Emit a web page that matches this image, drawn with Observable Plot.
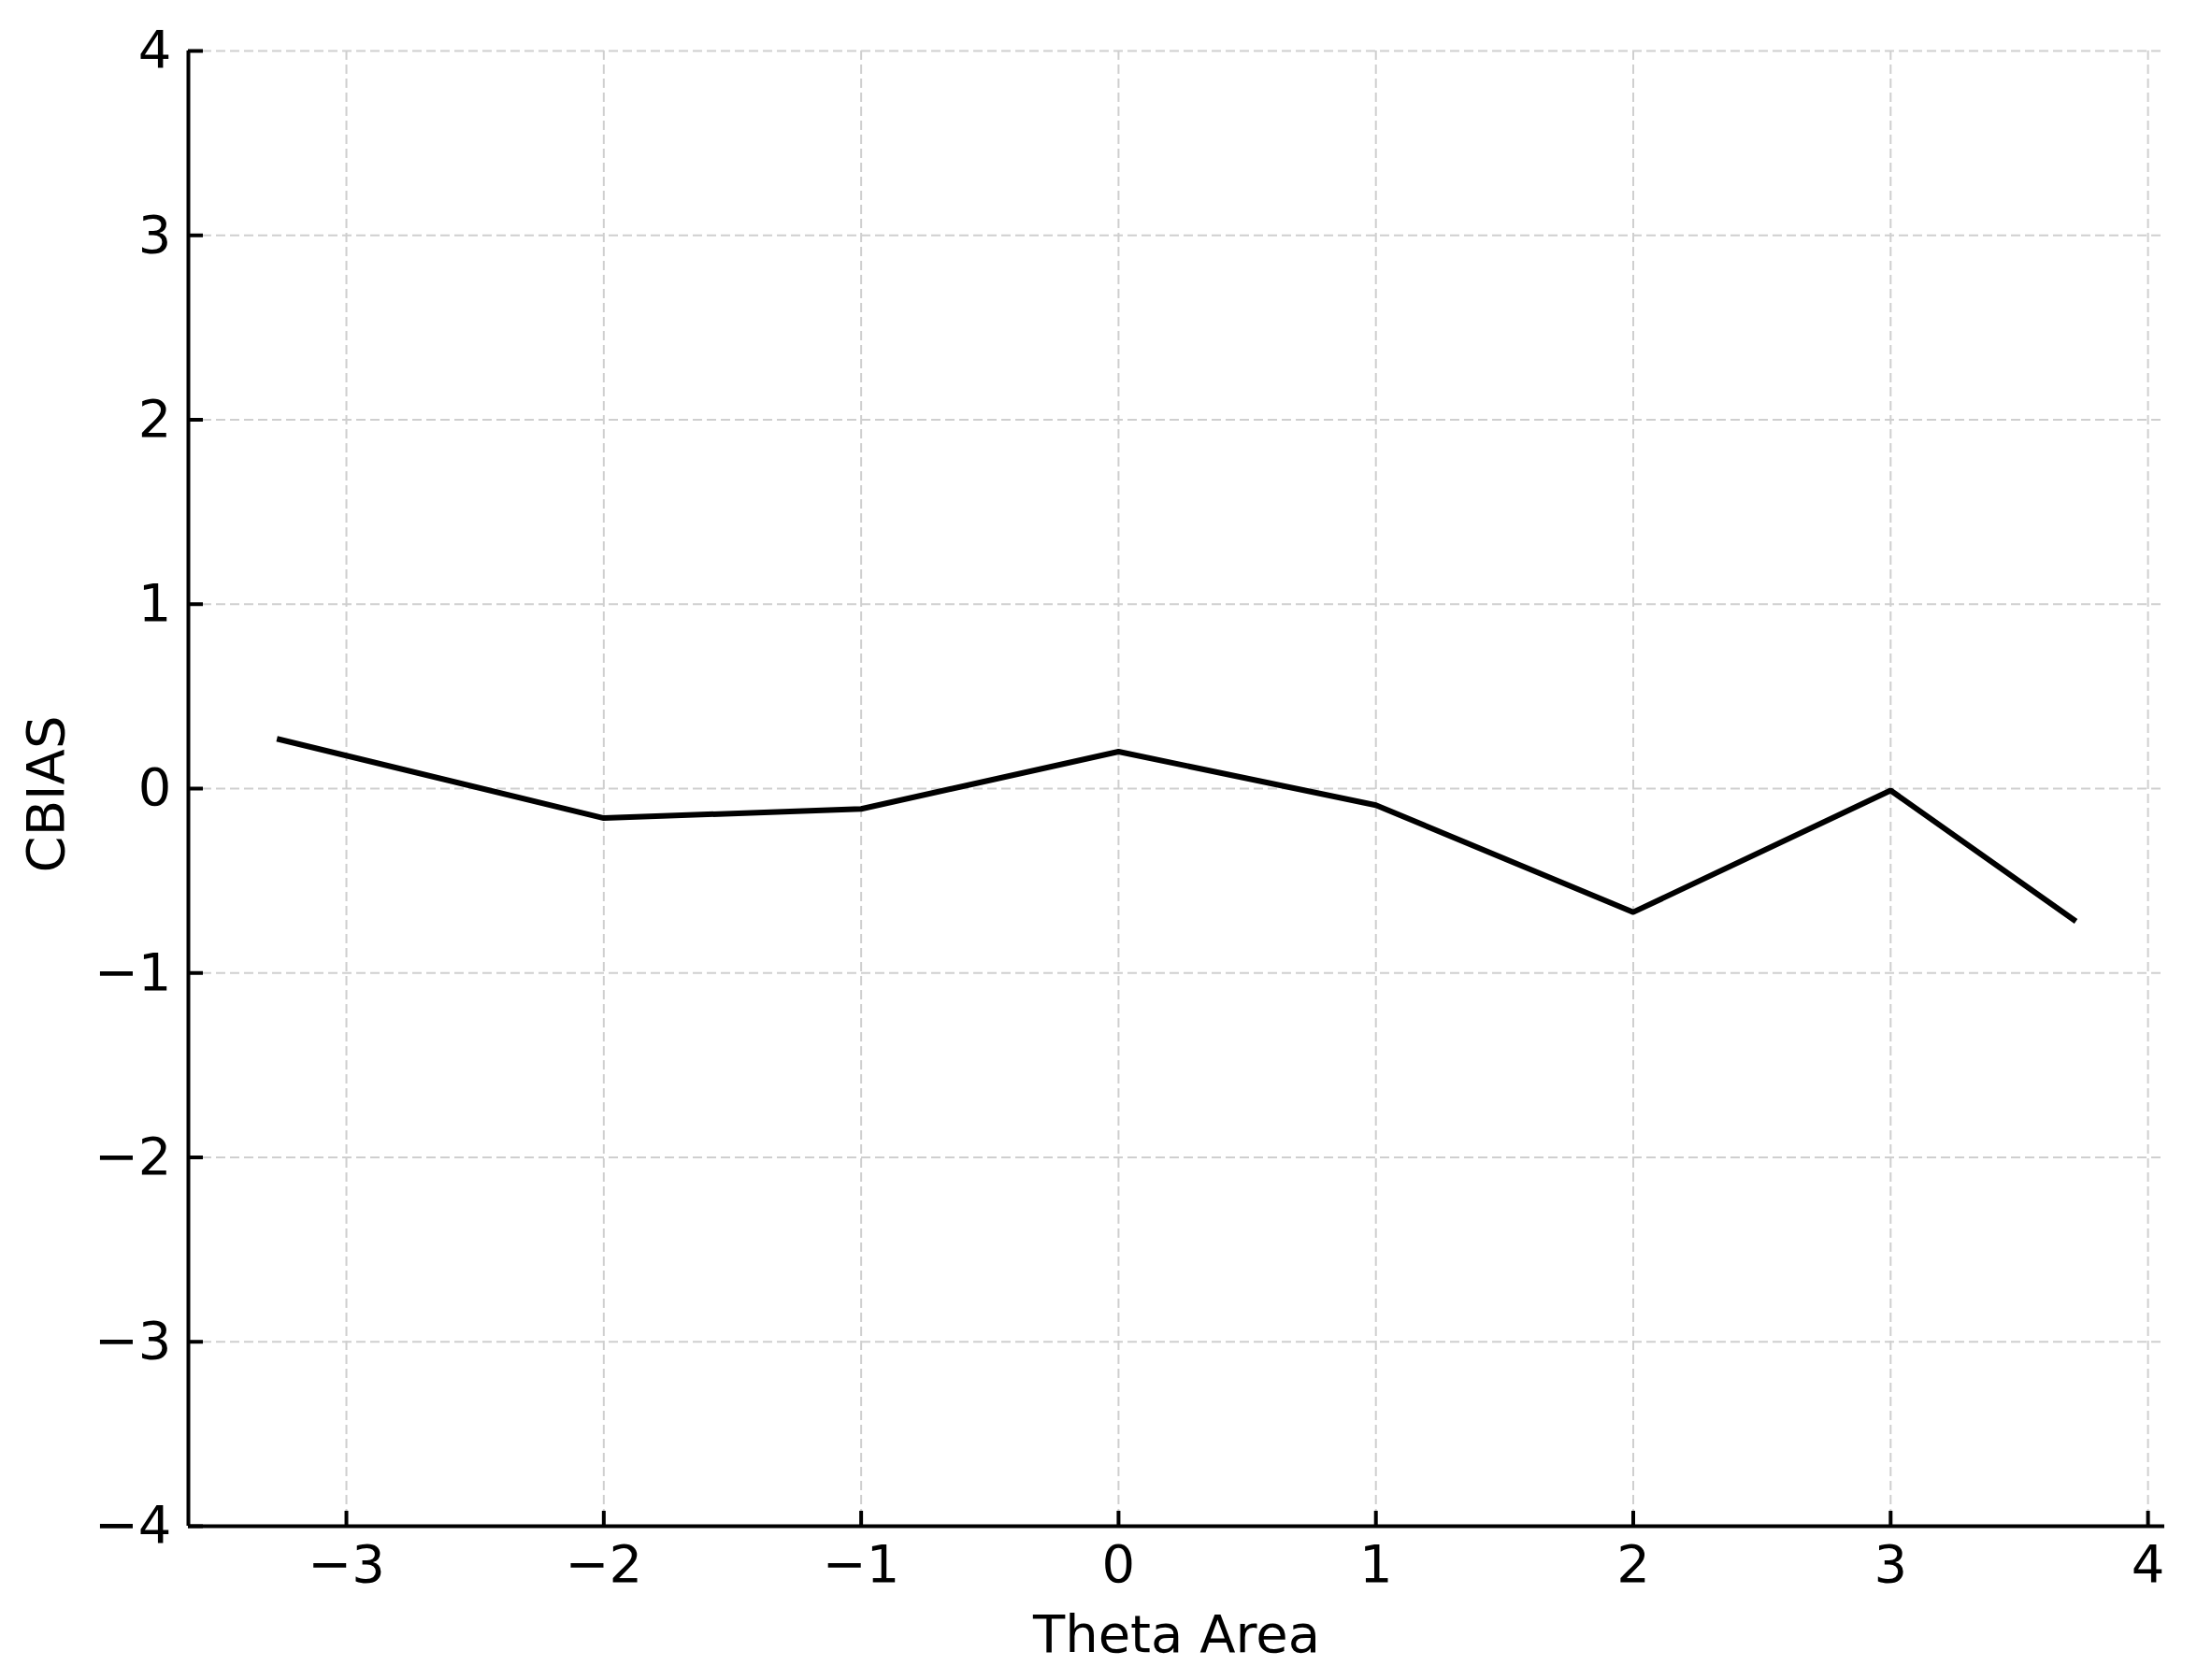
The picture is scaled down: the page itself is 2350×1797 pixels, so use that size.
<!DOCTYPE html>
<html>
<head>
<meta charset="utf-8">
<script src="https://cdn.jsdelivr.net/npm/d3@7"></script>
<script src="https://cdn.jsdelivr.net/npm/@observablehq/plot@0.6"></script>
<style>
  html, body { margin: 0; padding: 0; background: #fff; }
  #chart svg { display: block; }
</style>
</head>
<body>
<div id="chart"></div>
<script>
const thetaArea = [-3.27, -2, -1, 0, 1, 2, 3, 3.72];
const cbias = [0.27, -0.16, -0.11, 0.2, -0.09, -0.67, -0.01, -0.72];
const xTicks = [-3, -2, -1, 0, 1, 2, 3, 4];
const yTicks = [-4, -3, -2, -1, 0, 1, 2, 3, 4];
const xLabel = "Theta Area";
const yLabel = "CBIAS";

const data = thetaArea.map((x, i) => ({x, y: cbias[i]}));
const fmt = d => (d < 0 ? "\u2212" + Math.abs(d) : String(d));

const W = 2350, H = 1797;
const mL = 201, mR = 35, mT = 54, mB = 165;
const plotW = W - mL - mR, plotH = H - mT - mB;
const xDomain = [-3.614, 4.065];
const yDomain = [-4, 4];

const chart = Plot.plot({
  width: W,
  height: H,
  marginLeft: mL,
  marginRight: mR,
  marginTop: mT,
  marginBottom: mB,
  style: {fontFamily: "'DejaVu Sans', sans-serif", fontSize: "56px", background: "#fff", color: "#000"},
  x: {domain: xDomain, label: null},
  y: {domain: yDomain, label: null},
  marks: [
    Plot.gridX(xTicks, {stroke: "#cfcfcf", strokeOpacity: 1, strokeWidth: 2, strokeDasharray: "10,5"}),
    Plot.gridY(yTicks, {stroke: "#cfcfcf", strokeOpacity: 1, strokeWidth: 2, strokeDasharray: "10,5"}),
    // inward tick marks
    Plot.gridX(xTicks, {stroke: "#000", strokeOpacity: 1, strokeWidth: 4, insetTop: plotH - 16}),
    Plot.gridY(yTicks, {stroke: "#000", strokeOpacity: 1, strokeWidth: 4, insetRight: plotW - 16}),
    Plot.axisX(xTicks, {tickSize: 0, tickPadding: 20, tickFormat: fmt, label: null, fontSize: 56}),
    Plot.axisY(yTicks, {tickSize: 0, tickPadding: 18, tickFormat: fmt, label: null, fontSize: 56}),
    // spines
    Plot.ruleY([yDomain[0]], {stroke: "#000", strokeWidth: 4}),
    Plot.ruleX([xDomain[0]], {stroke: "#000", strokeWidth: 4}),
    Plot.line(data, {x: "x", y: "y", stroke: "#000", strokeWidth: 6, strokeLinejoin: "miter", strokeLinecap: "butt"}),
    Plot.text([xLabel], {frameAnchor: "bottom", dy: 117, lineAnchor: "middle", textAnchor: "middle", fontSize: 56, text: d => d}),
    Plot.text([yLabel], {frameAnchor: "left", dx: -151, dy: 6, rotate: -90, lineAnchor: "middle", textAnchor: "middle", fontSize: 56, text: d => d})
  ]
});
document.getElementById("chart").appendChild(chart);
</script>
</body>
</html>
